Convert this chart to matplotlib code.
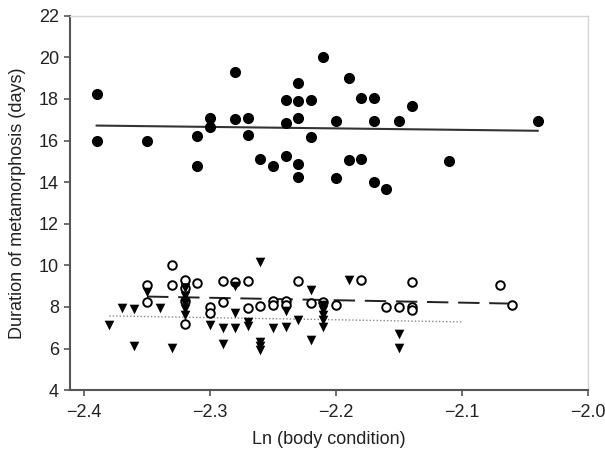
import matplotlib
matplotlib.use("Agg")
import matplotlib.pyplot as plt

plt.rcParams["font.family"] = ["Liberation Sans", "DejaVu Sans"]

# filled circles (upper group)
filled_x = [-2.39, -2.39, -2.35, -2.31, -2.31, -2.30, -2.30, -2.28, -2.28, -2.27,
            -2.27, -2.26, -2.25, -2.24, -2.24, -2.24, -2.23, -2.23, -2.23, -2.23,
            -2.23, -2.22, -2.22, -2.21, -2.20, -2.20, -2.19, -2.19, -2.18, -2.18,
            -2.17, -2.17, -2.17, -2.16, -2.15, -2.14, -2.11, -2.04]
filled_y = [18.25, 16.0, 16.0, 16.2, 14.8, 17.1, 16.65, 19.3, 17.05, 17.1,
            16.25, 15.1, 14.8, 17.95, 16.85, 15.25, 18.75, 17.9, 17.1, 14.85,
            14.25, 17.95, 16.15, 20.0, 16.95, 14.2, 19.0, 15.05, 18.05, 15.1,
            18.05, 16.95, 14.0, 13.65, 16.95, 17.65, 15.0, 16.95]

# open circles
open_x = [-2.35, -2.35, -2.33, -2.33, -2.32, -2.32, -2.32, -2.32, -2.31, -2.30,
          -2.30, -2.29, -2.29, -2.28, -2.27, -2.27, -2.26, -2.25, -2.25, -2.24,
          -2.24, -2.23, -2.22, -2.21, -2.20, -2.18, -2.16, -2.15, -2.14, -2.14,
          -2.14, -2.07, -2.06]
open_y = [9.05, 8.25, 10.0, 9.05, 9.3, 8.9, 8.3, 7.2, 9.13, 8.0,
          7.7, 9.25, 8.25, 9.2, 9.26, 7.95, 8.05, 8.3, 8.1, 8.3,
          8.1, 9.25, 8.2, 8.25, 8.1, 9.3, 8.0, 8.0, 9.2, 8.0,
          7.85, 9.05, 8.1]

# filled triangles
tri_x = [-2.38, -2.37, -2.36, -2.36, -2.35, -2.34, -2.33, -2.32, -2.32, -2.32,
         -2.32, -2.32, -2.30, -2.29, -2.29, -2.28, -2.28, -2.28, -2.27, -2.27,
         -2.26, -2.26, -2.26, -2.26, -2.25, -2.24, -2.24, -2.23, -2.22, -2.22,
         -2.21, -2.21, -2.21, -2.21, -2.21, -2.19, -2.15, -2.15]
tri_y = [7.15, 7.95, 7.9, 6.1, 8.7, 7.95, 6.05, 8.9, 8.55, 8.2,
         7.9, 7.6, 7.15, 6.97, 6.2, 9.0, 7.7, 6.97, 7.3, 7.1,
         10.15, 6.3, 6.1, 5.95, 6.97, 7.8, 7.05, 7.35, 8.8, 6.4,
         8.1, 7.85, 7.6, 7.35, 7.05, 9.3, 6.72, 6.05]

# fitted lines (end points)
fit_filled_x = [-2.39, -2.04]
fit_filled_y = [16.72, 16.47]
fit_open_x = [-2.35, -2.06]
fit_open_y = [8.5, 8.16]
fit_tri_x = [-2.38, -2.10]
fit_tri_y = [7.57, 7.28]

x_ticks = [-2.4, -2.3, -2.2, -2.1, -2.0]
y_ticks = [4, 6, 8, 10, 12, 14, 16, 18, 20, 22]

fig = plt.figure(figsize=(6.05, 4.5), dpi=100)
ax = fig.add_axes([0.116, 0.133, 0.856, 0.832])

ax.plot(fit_filled_x, fit_filled_y, color="#333333", lw=1.5, zorder=2)
ax.plot(fit_open_x, fit_open_y, color="#222222", lw=1.4, dashes=(11, 5), zorder=2)
ax.plot(fit_tri_x, fit_tri_y, color="#888888", lw=1.0, linestyle=(0, (1, 1.5)), zorder=2)

ax.scatter(filled_x, filled_y, s=64, c="black", marker="o", linewidths=0, zorder=3)
ax.scatter(open_x, open_y, s=38, facecolors="white", edgecolors="black",
           marker="o", linewidths=1.4, zorder=3)
ax.scatter(tri_x, tri_y, s=48, c="black", marker="v", linewidths=0, zorder=3)

ax.set_xlim(-2.411, -2.0)
ax.set_ylim(4, 22)
ax.set_xticks(x_ticks)
ax.set_yticks(y_ticks)
ax.set_xticklabels(["\u22122.4", "\u22122.3", "\u22122.2", "\u22122.1", "\u22122.0"])

for side in ["left", "bottom"]:
    ax.spines[side].set_color("#555555")
    ax.spines[side].set_linewidth(1.5)
for side in ["top", "right"]:
    ax.spines[side].set_color("#d5d5d5")
    ax.spines[side].set_linewidth(1.0)

ax.tick_params(axis="both", direction="out", length=4, width=1.2, color="#555555",
               labelsize=13, labelcolor="#222222", pad=4)
ax.tick_params(axis="x", pad=6)

ax.set_xlabel("Ln (body condition)", fontsize=13, color="#222222", labelpad=7)
ax.set_ylabel("Duration of metamorphosis (days)", fontsize=13, color="#222222", labelpad=9)

fig.savefig("out.png", dpi=100)
